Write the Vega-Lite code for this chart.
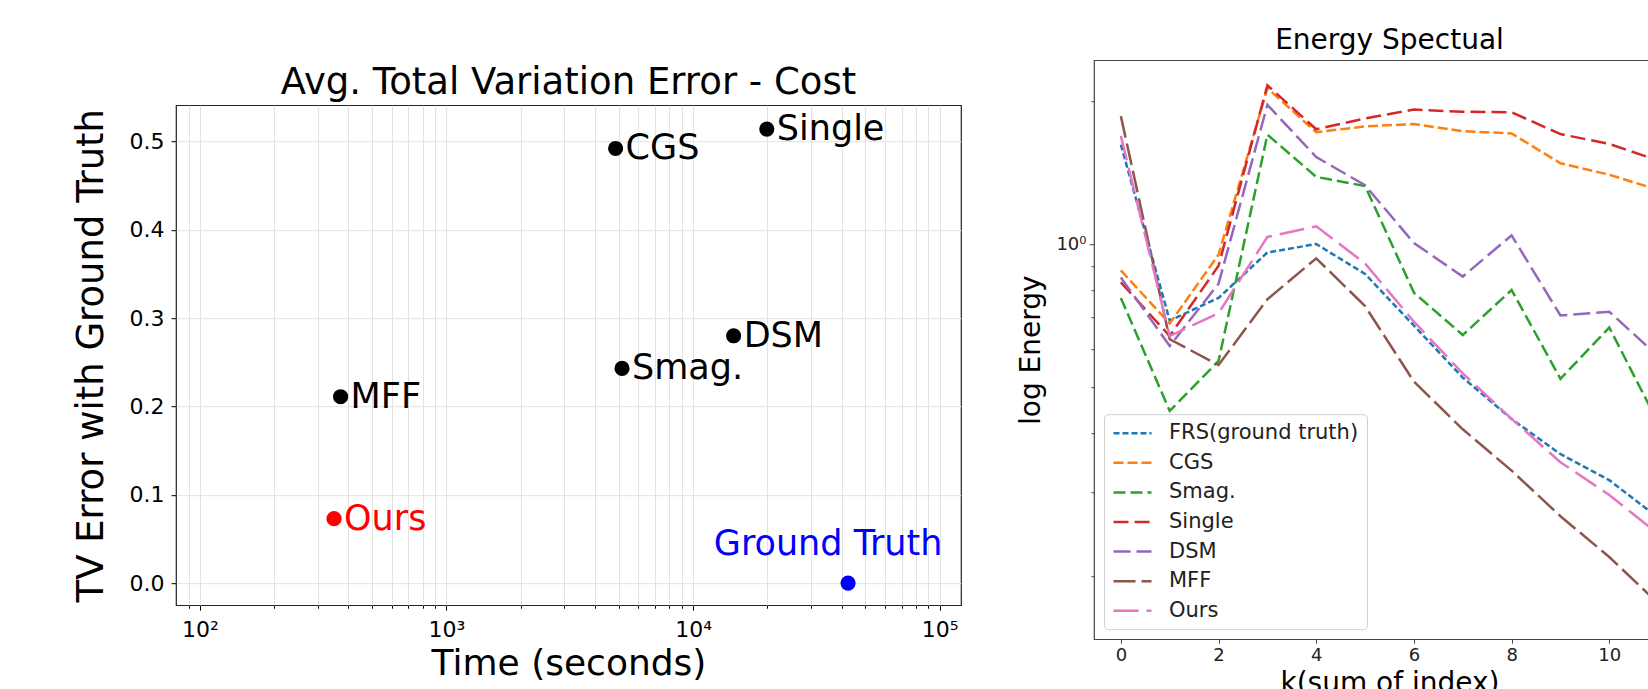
{
  "$schema": "https://vega.github.io/schema/vega-lite/v6.json",
  "background": "white",
  "padding": {"left": 71, "top": 26, "right": 0, "bottom": 0},
  "spacing": 55,
  "center": true,
  "resolve": {"scale": {"color": "independent", "strokeDash": "independent"}, "legend": {"color": "independent", "strokeDash": "independent"}},
  "config": {
    "font": "DejaVu Sans",
    "axis": {"titleFontWeight": "normal", "labelColor": "#000", "titleColor": "#000", "tickColor": "#000", "domain": false, "labelOverlap": false, "labelBound": false, "labelFlush": false},
    "title": {"fontWeight": "normal", "color": "#000"}
  },
  "datasets": {
    "tv": [
      {"method": "CGS", "time": 4850, "err": 0.492},
      {"method": "Single", "time": 19900, "err": 0.514},
      {"method": "DSM", "time": 14600, "err": 0.280},
      {"method": "Smag.", "time": 5150, "err": 0.243},
      {"method": "MFF", "time": 372, "err": 0.211},
      {"method": "Ours", "time": 350, "err": 0.073},
      {"method": "Ground Truth", "time": 42500, "err": 0.0}
    ],
    "spec": [
      {"model": "FRS(ground truth)", "k": 0, "energy": 1.62},
      {"model": "FRS(ground truth)", "k": 1, "energy": 0.69},
      {"model": "FRS(ground truth)", "k": 2, "energy": 0.77},
      {"model": "FRS(ground truth)", "k": 3, "energy": 0.96},
      {"model": "FRS(ground truth)", "k": 4, "energy": 1.0},
      {"model": "FRS(ground truth)", "k": 5, "energy": 0.865},
      {"model": "FRS(ground truth)", "k": 6, "energy": 0.673},
      {"model": "FRS(ground truth)", "k": 7, "energy": 0.523},
      {"model": "FRS(ground truth)", "k": 8, "energy": 0.428},
      {"model": "FRS(ground truth)", "k": 9, "energy": 0.361},
      {"model": "FRS(ground truth)", "k": 10, "energy": 0.318},
      {"model": "FRS(ground truth)", "k": 11, "energy": 0.265},
      {"model": "CGS", "k": 0, "energy": 0.88},
      {"model": "CGS", "k": 1, "energy": 0.68},
      {"model": "CGS", "k": 2, "energy": 0.95},
      {"model": "CGS", "k": 3, "energy": 2.13},
      {"model": "CGS", "k": 4, "energy": 1.72},
      {"model": "CGS", "k": 5, "energy": 1.77},
      {"model": "CGS", "k": 6, "energy": 1.79},
      {"model": "CGS", "k": 7, "energy": 1.73},
      {"model": "CGS", "k": 8, "energy": 1.71},
      {"model": "CGS", "k": 9, "energy": 1.48},
      {"model": "CGS", "k": 10, "energy": 1.40},
      {"model": "CGS", "k": 11, "energy": 1.30},
      {"model": "Smag.", "k": 0, "energy": 0.77},
      {"model": "Smag.", "k": 1, "energy": 0.445},
      {"model": "Smag.", "k": 2, "energy": 0.567},
      {"model": "Smag.", "k": 3, "energy": 1.70},
      {"model": "Smag.", "k": 4, "energy": 1.385},
      {"model": "Smag.", "k": 5, "energy": 1.325},
      {"model": "Smag.", "k": 6, "energy": 0.79},
      {"model": "Smag.", "k": 7, "energy": 0.643},
      {"model": "Smag.", "k": 8, "energy": 0.80},
      {"model": "Smag.", "k": 9, "energy": 0.52},
      {"model": "Smag.", "k": 10, "energy": 0.667},
      {"model": "Smag.", "k": 11, "energy": 0.42},
      {"model": "Single", "k": 0, "energy": 0.83},
      {"model": "Single", "k": 1, "energy": 0.64},
      {"model": "Single", "k": 2, "energy": 0.90},
      {"model": "Single", "k": 3, "energy": 2.16},
      {"model": "Single", "k": 4, "energy": 1.745},
      {"model": "Single", "k": 5, "energy": 1.84},
      {"model": "Single", "k": 6, "energy": 1.92},
      {"model": "Single", "k": 7, "energy": 1.90},
      {"model": "Single", "k": 8, "energy": 1.895},
      {"model": "Single", "k": 9, "energy": 1.705},
      {"model": "Single", "k": 10, "energy": 1.625},
      {"model": "Single", "k": 11, "energy": 1.50},
      {"model": "DSM", "k": 0, "energy": 0.85},
      {"model": "DSM", "k": 1, "energy": 0.61},
      {"model": "DSM", "k": 2, "energy": 0.825},
      {"model": "DSM", "k": 3, "energy": 1.965},
      {"model": "DSM", "k": 4, "energy": 1.525},
      {"model": "DSM", "k": 5, "energy": 1.33},
      {"model": "DSM", "k": 6, "energy": 1.005},
      {"model": "DSM", "k": 7, "energy": 0.854},
      {"model": "DSM", "k": 8, "energy": 1.043},
      {"model": "DSM", "k": 9, "energy": 0.707},
      {"model": "DSM", "k": 10, "energy": 0.72},
      {"model": "DSM", "k": 11, "energy": 0.58},
      {"model": "MFF", "k": 0, "energy": 1.86},
      {"model": "MFF", "k": 1, "energy": 0.63},
      {"model": "MFF", "k": 2, "energy": 0.556},
      {"model": "MFF", "k": 3, "energy": 0.765},
      {"model": "MFF", "k": 4, "energy": 0.933},
      {"model": "MFF", "k": 5, "energy": 0.74},
      {"model": "MFF", "k": 6, "energy": 0.513},
      {"model": "MFF", "k": 7, "energy": 0.407},
      {"model": "MFF", "k": 8, "energy": 0.333},
      {"model": "MFF", "k": 9, "energy": 0.267},
      {"model": "MFF", "k": 10, "energy": 0.219},
      {"model": "MFF", "k": 11, "energy": 0.175},
      {"model": "Ours", "k": 0, "energy": 1.69},
      {"model": "Ours", "k": 1, "energy": 0.64},
      {"model": "Ours", "k": 2, "energy": 0.715},
      {"model": "Ours", "k": 3, "energy": 1.035},
      {"model": "Ours", "k": 4, "energy": 1.09},
      {"model": "Ours", "k": 5, "energy": 0.91},
      {"model": "Ours", "k": 6, "energy": 0.686},
      {"model": "Ours", "k": 7, "energy": 0.534},
      {"model": "Ours", "k": 8, "energy": 0.428},
      {"model": "Ours", "k": 9, "energy": 0.347},
      {"model": "Ours", "k": 10, "energy": 0.296},
      {"model": "Ours", "k": 11, "energy": 0.245}
    ]
  },
  "hconcat": [
    {
      "width": 785,
      "height": 500,
      "view": {"stroke": "#222", "strokeWidth": 1.2},
      "title": {
        "text": "Avg. Total Variation Error - Cost",
        "fontSize": 37,
        "offset": 3,
        "anchor": "middle"
      },
      "data": {"name": "tv"},
      "encoding": {
        "x": {
          "field": "time",
          "type": "quantitative",
          "title": "Time (seconds)",
          "scale": {"type": "log", "domain": [80, 122000], "nice": false},
          "axis": {
            "values": [90, 100, 200, 300, 400, 500, 600, 700, 800, 900, 1000, 2000, 3000, 4000, 5000, 6000, 7000, 8000, 9000, 10000, 20000, 30000, 40000, 50000, 60000, 70000, 80000, 90000, 100000],
            "labelExpr": "datum.value == 100 ? '10²' : datum.value == 1000 ? '10³' : datum.value == 10000 ? '10⁴' : datum.value == 100000 ? '10⁵' : ''",
            "labelFontSize": 22,
            "labelPadding": 9,
            "tickSize": {"condition": {"test": "datum.value == 100 || datum.value == 1000 || datum.value == 10000 || datum.value == 100000", "value": 5}, "value": 3},
            "grid": true,
            "gridColor": "#e2e2e2",
            "gridWidth": 1,
            "titleFontSize": 36,
            "titlePadding": 6
          }
        },
        "y": {
          "field": "err",
          "type": "quantitative",
          "title": "TV Error with Ground Truth",
          "scale": {"domain": [-0.025, 0.541], "nice": false, "zero": false},
          "axis": {
            "values": [0, 0.1, 0.2, 0.3, 0.4, 0.5],
            "format": ".1f",
            "labelFontSize": 22,
            "labelPadding": 7,
            "tickSize": 5,
            "grid": true,
            "gridColor": "#e2e2e2",
            "gridWidth": 1,
            "titleFontSize": 37,
            "titlePadding": 19
          }
        },
        "color": {
          "field": "method",
          "type": "nominal",
          "scale": {
            "domain": ["CGS", "Single", "DSM", "Smag.", "MFF", "Ours", "Ground Truth"],
            "range": ["#000000", "#000000", "#000000", "#000000", "#000000", "#ff0000", "#0000ff"]
          },
          "legend": null
        }
      },
      "layer": [
        {"mark": {"type": "circle", "size": 230, "opacity": 1}},
        {
          "transform": [{"filter": "datum.method != 'Ground Truth'"}],
          "mark": {"type": "text", "align": "left", "baseline": "alphabetic", "dx": 10, "dy": 11, "fontSize": 35},
          "encoding": {"text": {"field": "method"}}
        },
        {
          "transform": [{"filter": "datum.method == 'Ground Truth'"}],
          "mark": {"type": "text", "align": "center", "baseline": "alphabetic", "dx": -20, "dy": -28, "fontSize": 35},
          "encoding": {"text": {"field": "method"}}
        }
      ]
    },
    {
      "width": 591,
      "height": 579,
      "view": {"stroke": "#444", "strokeWidth": 1.2},
      "title": {"text": "Energy Spectual", "fontSize": 28, "offset": 5, "anchor": "middle"},
      "data": {"name": "spec"},
      "mark": {"type": "line", "strokeWidth": 2.5, "clip": true},
      "encoding": {
        "x": {
          "field": "k",
          "type": "quantitative",
          "title": ["k(sum of index)", " "],
          "scale": {"domain": [-0.55, 11.55], "nice": false, "zero": false},
          "axis": {
            "values": [0, 2, 4, 6, 8, 10],
            "labelFontSize": 18,
            "labelColor": "#222",
            "labelPadding": 3,
            "tickSize": 4,
            "tickColor": "#444",
            "grid": false,
            "titleFontSize": 28,
            "titleLineHeight": 29,
            "titlePadding": 5
          }
        },
        "y": {
          "field": "energy",
          "type": "quantitative",
          "title": "log Energy",
          "scale": {"type": "log", "domain": [0.147, 2.44], "nice": false},
          "axis": {
            "values": [0.2, 0.3, 0.4, 0.5, 0.6, 0.7, 0.8, 0.9, 1, 2],
            "labelExpr": "datum.value == 1 ? '10⁰' : ''",
            "labelFontSize": 18,
            "labelColor": "#222",
            "labelPadding": 3,
            "tickSize": {"condition": {"test": "datum.value == 1", "value": 5}, "value": 3},
            "tickColor": "#444",
            "grid": false,
            "titleFontSize": 28,
            "titlePadding": 10
          }
        },
        "color": {
          "field": "model",
          "type": "nominal",
          "scale": {
            "domain": ["FRS(ground truth)", "CGS", "Smag.", "Single", "DSM", "MFF", "Ours"],
            "range": ["#1f77b4", "#ff7f0e", "#2ca02c", "#d62728", "#9467bd", "#8c564b", "#e377c2"]
          },
          "legend": {
            "title": null,
            "orient": "bottom-left",
            "offset": 10,
            "padding": 8,
            "fillColor": "#ffffff",
            "strokeColor": "#d0d0d0",
            "cornerRadius": 4,
            "labelFontSize": 21,
            "labelColor": "#222",
            "labelLimit": 400,
            "labelOffset": 35,
            "rowPadding": 8.6,
            "symbolType": "M-1,0H3",
            "symbolSize": 361,
            "symbolStrokeWidth": 2.5
          }
        },
        "strokeDash": {
          "field": "model",
          "type": "nominal",
          "scale": {
            "domain": ["FRS(ground truth)", "CGS", "Smag.", "Single", "DSM", "MFF", "Ours"],
            "range": [[6, 3], [10, 4], [12, 5], [15, 6], [17, 6], [22, 6], [25, 8]]
          },
          "legend": {
            "title": null,
            "orient": "bottom-left",
            "offset": 10,
            "padding": 8,
            "fillColor": "#ffffff",
            "strokeColor": "#d0d0d0",
            "cornerRadius": 4,
            "labelFontSize": 21,
            "labelColor": "#222",
            "labelLimit": 400,
            "labelOffset": 35,
            "rowPadding": 8.6,
            "symbolType": "M-1,0H3",
            "symbolSize": 361,
            "symbolStrokeWidth": 2.5
          }
        }
      }
    }
  ]
}
